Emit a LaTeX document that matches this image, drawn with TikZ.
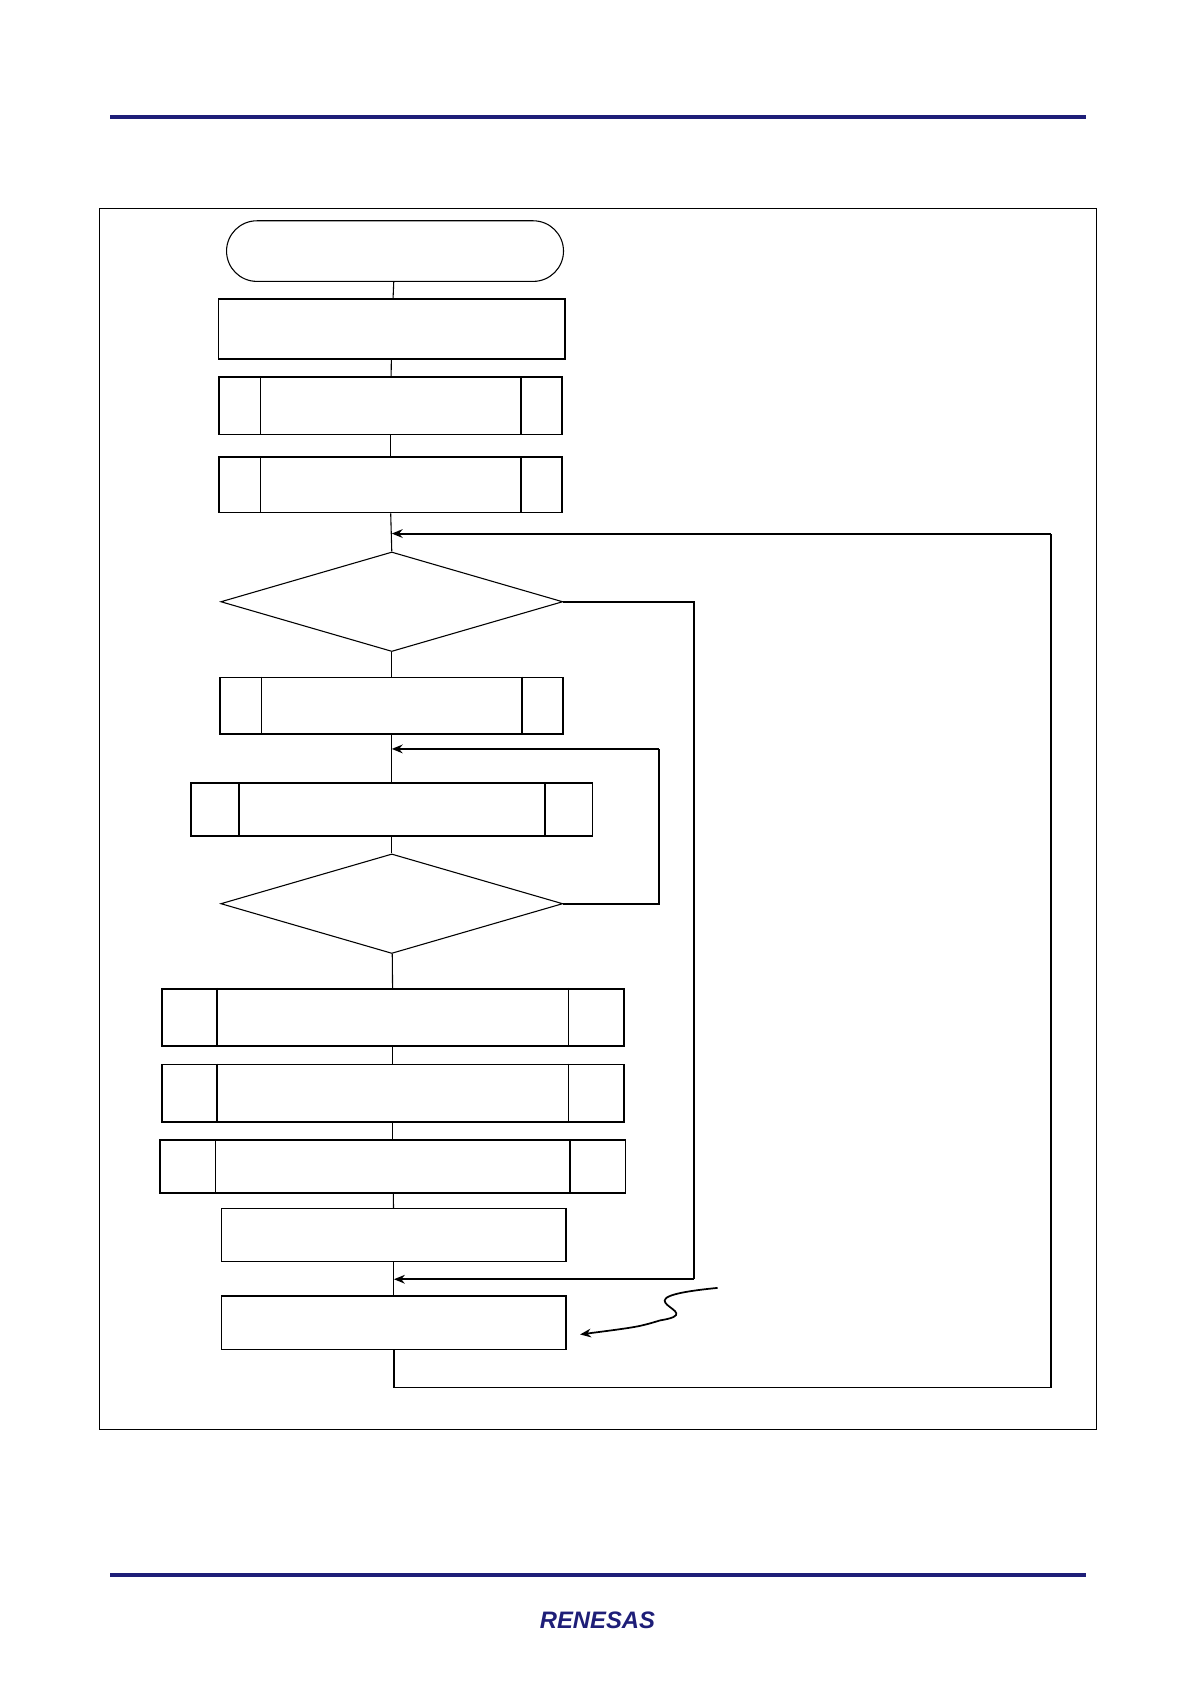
\documentclass[tikz,border=0pt]{standalone}
\usepackage{fontspec}
\setmainfont{Liberation Sans}
\usetikzlibrary{shapes.geometric,shapes.misc,calc,arrows.meta}
\definecolor{rnavy}{RGB}{30,30,120}

\begin{document}
\begin{tikzpicture}[x=1pt,y=-1pt,
  proc/.style={draw,line width=1.6pt,minimum height=#1,inner sep=0pt},
  term/.style={draw,rounded rectangle,line width=1pt,minimum width=318,minimum height=56},
  dec/.style={draw,diamond,aspect=3.4,minimum width=316,minimum height=92,inner sep=0pt,line width=1pt},
  flow/.style={line width=1pt},
  back/.style={line width=1.8pt,-{Stealth[length=10pt,width=8pt]}}]
  \useasboundingbox (0,0) rectangle (1100,1556);
  % page rules and frame
  \draw[rnavy,line width=3.5pt] (102,108) -- (1003,108);
  \draw[rnavy,line width=3.5pt] (102,1455) -- (1003,1455);
  \draw[line width=0.8pt] (92,193) rectangle (1013,1321);
  \node[rnavy,font=\bfseries\itshape\fontsize{22}{22}\selectfont] (logo) at (552,1497) {RENESAS};
  % flow nodes
  \node[term] (start) at (365,232) {};
  \node[proc=56,minimum width=320] (init) at (362,304) {};
  \node[proc=53,minimum width=317] (p1) at (361,375) {};
  \node[proc=51,minimum width=317] (p2) at (361,448) {};
  \coordinate (j1) at (362,493);
  \node[dec] (d1) at (362,556) {};
  \node[proc=52,minimum width=317] (p3) at (362,652) {};
  \coordinate (j2) at (362,692);
  \node[proc=49,minimum width=371] (p4) at (362,748) {};
  \node[dec] (d2) at (362,835) {};
  \node[proc=53,minimum width=427] (p5) at (363,940) {};
  \node[proc=53,minimum width=427] (p6) at (363,1010) {};
  \node[proc=49,minimum width=430] (p7) at (363,1078) {};
  \node[proc=49,minimum width=318,line width=1pt] (b1) at (364,1141) {};
  \coordinate (j3) at (364,1182);
  \node[proc=49,minimum width=318,line width=1pt] (b2) at (364,1222) {};
  % inner bars of predefined processes
  \foreach \n/\w in {p1/39,p2/39,p3/39,p4/45,p5/52,p6/52,p7/52}
    \draw[line width=1.6pt] ($(\n.north west)+(\w,0)$) -- ($(\n.south west)+(\w,0)$)
      ($(\n.north east)-(\w,0)$) -- ($(\n.south east)-(\w,0)$);
  % connectors
  \draw[flow] (start) -- (init);
  \draw[flow] (init) -- (p1);
  \draw[flow] (p1) -- (p2);
  \draw[flow] (p2.south) -- (d1.north);
  \draw[flow] (d1) -- (p3);
  \draw[flow] (p3.south) -- (p4.north);
  \draw[flow] (p4) -- (d2);
  \draw[flow] (d2) -- (p5);
  \draw[flow] (p5) -- (p6);
  \draw[flow] (p6) -- (p7);
  \draw[flow] (p7) -- (b1);
  \draw[flow] (b1) -- (b2);
  \draw[line width=1.8pt] (d1.east) -- (641,556) -- (641,1182);
  \draw[back] (641,1182) -- (j3);
  \draw[line width=1.8pt] (d2.east) -- (609,835) -- (609,692);
  \draw[back] (609,692) -- (j2);
  \draw[line width=1.8pt] (b2.south) -- (b2.south |- 0,1282) -- (971,1282) -- (971,493);
  \draw[back] (971,493) -- (j1);
  % annotation
  \draw[line width=1.6pt,-{Stealth[length=10pt,width=8pt]}] (663,1190) .. controls (560,1200) and (660,1212) .. (610,1220) .. controls (590,1226) .. (536,1233);
\end{tikzpicture}
\end{document}
